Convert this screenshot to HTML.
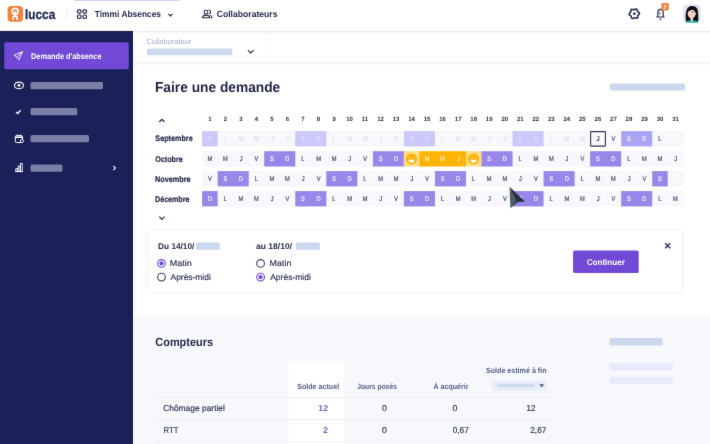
<!DOCTYPE html>
<html lang="fr">
<head>
<meta charset="utf-8">
<title>Timmi Absences - Faire une demande</title>
<style>
*{margin:0;padding:0;box-sizing:border-box}
html,body{width:710px;height:444px;overflow:hidden;background:#fff}
svg{display:block;position:absolute;left:0;top:0}
text{font-family:"Liberation Sans",sans-serif;white-space:pre;text-rendering:geometricPrecision}
</style>
</head>
<body>
<svg width="710" height="444" viewBox="0 0 710 444">
<defs><filter id="soft" x="0" y="0" width="710" height="444" filterUnits="userSpaceOnUse" color-interpolation-filters="sRGB"><feConvolveMatrix order="3" kernelMatrix="0.00524 0.06192 0.00524 0.06192 0.73137 0.06192 0.00524 0.06192 0.00524" divisor="1" edgeMode="duplicate" preserveAlpha="false"/></filter></defs>
<g filter="url(#soft)">
<g id="shapes">
<rect x="0.00" y="0.00" width="710.00" height="444.00" fill="#ffffff"/>
<rect x="133.00" y="317.10" width="577.00" height="126.90" fill="#f7f8fc"/>
<rect x="133" y="62" width="577" height="1.1" fill="#f3f4f8"/>
<rect x="133" y="63.1" width="577" height="1.4" fill="#fafafc"/>
<rect x="266.40" y="31.00" width="0.90" height="31.00" fill="#f4f5f9"/>
<rect x="147.00" y="48.60" width="85.40" height="6.70" fill="#cdd9ee" rx="1.5"/>
<path d="M247.9 50.2 L250.75 53 L253.6 50.2" fill="none" stroke="#232a4c" stroke-width="1.15"/>
<rect x="0.00" y="30.80" width="133.00" height="413.20" fill="#1a2058"/>
<rect x="4.20" y="42.30" width="124.60" height="26.90" fill="#7149d6" rx="1.6"/>
<path d="M14.4 55 L22.5 51.7 L18.9 59.8 L16.8 57.3 Z M16.8 57.3 L22.5 51.7" fill="none" stroke="#fff" stroke-width="0.9" stroke-linejoin="round" stroke-linecap="round"/>
<ellipse cx="19" cy="85.4" rx="4.5" ry="3.3" fill="none" stroke="#fff" stroke-width="1.15"/><circle cx="19" cy="85.4" r="1.45" fill="#fff"/>
<rect x="30.50" y="82.00" width="72.50" height="7.20" fill="#7b7fa7" rx="1.5"/>
<path d="M16 112 L17.7 113.5 L20.6 110.3" fill="none" stroke="#fff" stroke-width="1.3"/>
<rect x="30.50" y="108.00" width="46.80" height="7.20" fill="#7b7fa7" rx="1.5"/>
<g fill="none" stroke="#fff" stroke-width="1"><rect x="15.3" y="135.6" width="7.2" height="7" rx="1.2"/><path d="M15.3 137.2 H22.5" stroke-width="1.6"/><path d="M17.2 134.6 V136 M20.6 134.6 V136"/><circle cx="21.9" cy="140.9" r="1.6" fill="#1a2058" stroke-width="0.9"/></g>
<rect x="30.50" y="135.00" width="58.50" height="7.20" fill="#7b7fa7" rx="1.5"/>
<g fill="none" stroke="#fff" stroke-width="0.85"><path d="M15.1 171.6 H23"/><rect x="15.9" y="168.6" width="1.7" height="3"/><rect x="18.2" y="166" width="1.7" height="5.6"/><rect x="20.5" y="163.5" width="1.7" height="8.1"/></g>
<rect x="30.50" y="164.60" width="31.90" height="7.10" fill="#7b7fa7" rx="1.5"/>
<path d="M113.3 165.9 L115.5 168 L113.3 170.1" fill="none" stroke="#fff" stroke-width="1.05"/>
<rect x="0" y="30.7" width="710" height="1.3" fill="#1a2058" opacity=".07"/>
<rect x="0" y="32" width="710" height="1.5" fill="#1a2058" opacity=".03"/>
<rect x="0.00" y="0.00" width="710.00" height="30.70" fill="#ffffff"/>
<rect x="74.40" y="0.00" width="104.60" height="0.70" fill="#c9bbec"/>
<rect x="7.60" y="5.90" width="15.40" height="15.90" fill="#f6813c" rx="3.6"/>
<g fill="none" stroke="#fff"><circle cx="15.1" cy="11.35" r="3" stroke-width="1.75"/><path d="M13.1 19.9 V18 C13.1 15.5 17.1 15.5 17.1 18 V19.9" stroke-width="1.7"/><path d="M15.1 11.2 V16.2" stroke-width="1.7"/></g>
<rect x="66.10" y="8.40" width="0.90" height="11.40" fill="#eceef4"/>
<g fill="none" stroke="#232a4c" stroke-width="1.2"><rect x="77.5" y="9.8" width="3.5" height="3.4" rx="1.1"/><rect x="83" y="9.8" width="3.5" height="3.4" rx="1.1"/><rect x="77.5" y="15" width="3.5" height="3.4" rx="1.1"/><rect x="83" y="15" width="3.5" height="3.4" rx="1.1"/></g>
<path d="M168.3 13.8 L170.4 15.9 L172.5 13.8" fill="none" stroke="#232a4c" stroke-width="1.1"/>
<g fill="none" stroke="#232a4c" stroke-width="1.05"><circle cx="206" cy="12.2" r="1.9"/><path d="M202.6 17.8 V17.2 C202.6 15.6 203.8 15.1 206 15.1 S209.4 15.6 209.4 17.2 V17.8 Z"/><path d="M208.6 10 C209.9 10 210.6 11 210.6 12 S209.9 13.9 208.9 13.9 M210 15.3 C211.2 15.6 211.8 16.2 211.8 17.2 V17.8 H210.4"/></g>
<path d="M639.38 13.75 L639.22 14.07 L638.98 14.37 L638.70 14.63 L638.42 14.85 L638.17 15.06 L637.97 15.27 L637.85 15.50 L637.78 15.76 L637.77 16.07 L637.78 16.42 L637.77 16.79 L637.72 17.17 L637.61 17.52 L637.42 17.82 L637.16 18.03 L636.84 18.15 L636.48 18.17 L636.11 18.11 L635.74 18.00 L635.40 17.87 L635.10 17.75 L634.82 17.69 L634.56 17.69 L634.30 17.77 L634.03 17.91 L633.73 18.09 L633.40 18.28 L633.05 18.42 L632.69 18.50 L632.34 18.49 L632.02 18.37 L631.76 18.15 L631.56 17.85 L631.43 17.49 L631.34 17.12 L631.29 16.76 L631.23 16.44 L631.15 16.17 L631.01 15.95 L630.82 15.76 L630.56 15.60 L630.25 15.43 L629.93 15.23 L629.63 15.00 L629.38 14.73 L629.22 14.42 L629.16 14.09 L629.22 13.75 L629.38 13.43 L629.62 13.13 L629.90 12.87 L630.18 12.65 L630.43 12.44 L630.63 12.23 L630.75 12.00 L630.82 11.74 L630.83 11.43 L630.82 11.08 L630.83 10.71 L630.88 10.33 L630.99 9.98 L631.18 9.68 L631.44 9.47 L631.76 9.35 L632.12 9.33 L632.49 9.39 L632.86 9.50 L633.20 9.63 L633.50 9.75 L633.78 9.81 L634.04 9.81 L634.30 9.73 L634.57 9.59 L634.87 9.41 L635.20 9.22 L635.55 9.08 L635.91 9.00 L636.26 9.01 L636.58 9.13 L636.84 9.35 L637.04 9.65 L637.17 10.01 L637.26 10.38 L637.31 10.74 L637.37 11.06 L637.45 11.33 L637.59 11.55 L637.78 11.74 L638.04 11.90 L638.35 12.07 L638.67 12.27 L638.97 12.50 L639.22 12.77 L639.38 13.08 L639.44 13.41Z" fill="none" stroke="#1f2647" stroke-width="1.55" stroke-linejoin="round"/><circle cx="634.3" cy="13.75" r="1.35" fill="#1f2647"/>
<path d="M657.9 16.9 V12.8 C657.9 10.4 659.1 9.4 660.5 9.4 S663.2 10.4 663.2 12.8 V16.9 M656.3 17 H664.6 M659.6 19.1 H661.4" fill="none" stroke="#232a4c" stroke-width="1.2"/><path d="M659.8 12.2 V14.6" stroke="#232a4c" stroke-width=".8"/>
<rect x="661.30" y="3.10" width="7.50" height="7.40" fill="#f6813c" rx="1.4"/>
<clipPath id="av"><rect x="683.4" y="4.4" width="17.3" height="18.3" rx="3.4"/></clipPath><rect x="683.4" y="4.4" width="17.3" height="18.3" rx="3.4" fill="#dde5f6"/><g clip-path="url(#av)"><path d="M686 21.6 C685.2 15 685.6 8.2 689.6 6.4 C692.6 5.4 696.2 6 697.4 9 C698.4 12.4 698.4 17 698.2 21.6 Z" fill="#0d0d12"/><path d="M687.6 13 C687.8 10.6 689.6 9.6 692.4 9.5 C694.6 9.6 695.4 11.4 695.6 13 L696.4 13.6 L695.4 15 C694.8 17.2 693.2 18.4 691.6 18.6 C689.4 18.4 687.6 16 687.6 13Z" fill="#f3d2c8"/><path d="M690.6 18 H693 V21 H690.6Z" fill="#f3d2c8"/><path d="M687.4 12.4 C688.6 10.6 691 9.8 693.4 9.4 L695.6 12.8 L696.4 9 L691 6.6 L687 9.4Z" fill="#0d0d12"/><circle cx="692.6" cy="12.1" r="1" fill="#8e8a90"/><circle cx="690.6" cy="15.8" r=".8" fill="#f0a8a8"/><path d="M685.6 23 C686.2 20.6 688.6 20.2 691.8 20.6 C695 20.2 697.6 20.6 698.6 23Z" fill="#28b4b4"/><path d="M690.4 20.2 L691.8 21.8 L693.2 20.2Z" fill="#f3d2c8"/></g>
<rect x="610.00" y="83.50" width="75.00" height="7.10" fill="#ccd8ee" rx="1.5"/>
<path d="M159.3 122 L161.9 119.3 L164.5 122" fill="none" stroke="#232a4c" stroke-width="1.15"/>
<path d="M159.3 216.7 L161.9 219.4 L164.5 216.7" fill="none" stroke="#232a4c" stroke-width="1.15"/>
<rect x="202.15" y="131.10" width="481.12" height="15.30" fill="#f7f7fc"/>
<rect x="202.15" y="131.10" width="15.52" height="15.30" fill="#cbc8fb"/>
<rect x="295.27" y="131.10" width="31.04" height="15.30" fill="#cbc8fb"/>
<rect x="403.91" y="131.10" width="31.04" height="15.30" fill="#cbc8fb"/>
<rect x="512.55" y="131.10" width="31.04" height="15.30" fill="#cbc8fb"/>
<rect x="621.19" y="131.10" width="31.04" height="15.30" fill="#a9a5f6"/>
<rect x="590.65" y="131.60" width="14.72" height="14.50" rx="0.5" fill="#fbfbfe" stroke="#30354f" stroke-width="1.1"/>
<rect x="202.15" y="151.20" width="481.12" height="15.30" fill="#f7f7fc"/>
<rect x="264.23" y="151.20" width="31.04" height="15.30" fill="#9887e9"/>
<rect x="372.87" y="151.20" width="31.04" height="15.30" fill="#9887e9"/>
<rect x="403.91" y="151.20" width="15.52" height="15.30" fill="#ffdc86"/>
<rect x="419.43" y="151.20" width="46.56" height="15.30" fill="#ffb302"/>
<rect x="465.99" y="151.20" width="15.52" height="15.30" fill="#ffdc86"/>
<rect x="481.51" y="151.20" width="31.04" height="15.30" fill="#9887e9"/>
<rect x="590.15" y="151.20" width="31.04" height="15.30" fill="#9887e9"/>
<circle cx="411.47" cy="158.95" r="5.5" fill="#ffb302"/><path d="M408.37 159.65 H414.57 C414.37 163.65 408.57 163.65 408.37 159.65Z" fill="#fff"/><path d="M408.57 157.55 h1.9 M412.47 157.55 h1.9" stroke="#ffe9a8" stroke-width=".8"/>
<circle cx="473.55" cy="158.95" r="5.5" fill="#ffb302"/><path d="M470.45 159.65 H476.65 C476.45 163.65 470.65 163.65 470.45 159.65Z" fill="#fff"/><path d="M470.65 157.55 h1.9 M474.55 157.55 h1.9" stroke="#ffe9a8" stroke-width=".8"/>
<rect x="202.15" y="171.10" width="481.12" height="15.30" fill="#f7f7fc"/>
<rect x="217.67" y="171.10" width="31.04" height="15.30" fill="#9887e9"/>
<rect x="326.31" y="171.10" width="31.04" height="15.30" fill="#9887e9"/>
<rect x="434.95" y="171.10" width="31.04" height="15.30" fill="#9887e9"/>
<rect x="543.59" y="171.10" width="31.04" height="15.30" fill="#9887e9"/>
<rect x="652.23" y="171.10" width="15.52" height="15.30" fill="#9887e9"/>
<rect x="202.15" y="191.10" width="481.12" height="15.30" fill="#f7f7fc"/>
<rect x="202.15" y="191.10" width="15.52" height="15.30" fill="#9887e9"/>
<rect x="295.27" y="191.10" width="31.04" height="15.30" fill="#9887e9"/>
<rect x="403.91" y="191.10" width="31.04" height="15.30" fill="#9887e9"/>
<rect x="512.55" y="191.10" width="31.04" height="15.30" fill="#9887e9"/>
<rect x="621.19" y="191.10" width="31.04" height="15.30" fill="#9887e9"/>
<rect x="147.6" y="229.4" width="535.8" height="63.4" rx="3" fill="#fff" stroke="#f0f1f6" stroke-width="0.9"/>
<rect x="196.00" y="242.50" width="23.80" height="7.20" fill="#ccd8ee" rx="1"/>
<rect x="296.00" y="242.50" width="23.80" height="7.20" fill="#ccd8ee" rx="1"/>
<circle cx="161.5" cy="263.4" r="3.85" fill="#fff" stroke="#7149d6" stroke-width="1.15"/><circle cx="161.5" cy="263.4" r="2.15" fill="#7149d6"/>
<circle cx="161.5" cy="277.1" r="3.85" fill="#fff" stroke="#3d4468" stroke-width="1.15"/>
<circle cx="260.6" cy="263.4" r="3.85" fill="#fff" stroke="#3d4468" stroke-width="1.15"/>
<circle cx="260.6" cy="277.1" r="3.85" fill="#fff" stroke="#7149d6" stroke-width="1.15"/><circle cx="260.6" cy="277.1" r="2.15" fill="#7149d6"/>
<rect x="573.10" y="250.60" width="65.60" height="22.30" fill="#7149d6" rx="1.6"/>
<path d="M665.1 243.2 L670.1 248.2 M670.1 243.2 L665.1 248.2" stroke="#232a4c" stroke-width="1.25" fill="none"/>
<rect x="609.60" y="338.00" width="53.00" height="7.60" fill="#ccd8ee" rx="1.5"/>
<rect x="609.60" y="363.10" width="63.30" height="7.20" fill="#e8eafc" rx="1.5"/>
<rect x="609.60" y="376.70" width="63.30" height="7.20" fill="#e8eafc" rx="1.5"/>
<rect x="288.40" y="361.10" width="55.40" height="82.90" fill="#ffffff"/>
<rect x="155.30" y="397.05" width="396.00" height="0.90" fill="#ebedf4"/>
<rect x="155.30" y="419.15" width="396.00" height="0.90" fill="#ebedf4"/>
<rect x="155.30" y="441.25" width="396.00" height="0.90" fill="#ebedf4"/>
<rect x="492.00" y="380.60" width="54.20" height="10.20" fill="#e9edf8" rx="1"/>
<rect x="496.80" y="383.90" width="37.90" height="3.60" fill="#d2dbef" rx="1"/>
<path d="M539.2 384.3 H544.2 L541.7 387.3Z" fill="#4b5782"/>
</g>
<g id="labels">
<text x="146.43" y="43.70" font-size="7.6" fill="#a0abc9" textLength="44.87" lengthAdjust="spacingAndGlyphs">Collaborateur</text>
<text x="31.06" y="59.35" font-size="8.2" fill="#ffffff" font-weight="bold" textLength="70.43" lengthAdjust="spacingAndGlyphs">Demande d&#x27;absence</text>
<text x="25.09" y="18.70" font-size="13.6" fill="#273056" font-weight="bold" textLength="30.14" lengthAdjust="spacingAndGlyphs" stroke="#273056" stroke-width="0.35">lucca</text>
<text x="94.82" y="17.20" font-size="8.9" fill="#1f2647" font-weight="bold" textLength="66.19" lengthAdjust="spacingAndGlyphs">Timmi Absences</text>
<text x="216.76" y="17.20" font-size="8.9" fill="#1f2647" font-weight="bold" textLength="60.76" lengthAdjust="spacingAndGlyphs">Collaborateurs</text>
<text x="663.62" y="8.90" font-size="5.6" fill="#fff" font-weight="bold" textLength="2.90" lengthAdjust="spacingAndGlyphs">2</text>
<text x="154.98" y="92.20" font-size="14.4" fill="#1e2445" font-weight="bold" textLength="125.28" lengthAdjust="spacingAndGlyphs">Faire une demande</text>
<text x="208.14" y="121.20" font-size="6.2" fill="#1f2647" font-weight="bold" textLength="3.34" lengthAdjust="spacingAndGlyphs">1</text>
<text x="223.78" y="121.20" font-size="6.2" fill="#1f2647" font-weight="bold" textLength="3.34" lengthAdjust="spacingAndGlyphs">2</text>
<text x="239.33" y="121.20" font-size="6.2" fill="#1f2647" font-weight="bold" textLength="3.34" lengthAdjust="spacingAndGlyphs">3</text>
<text x="254.76" y="121.20" font-size="6.2" fill="#1f2647" font-weight="bold" textLength="3.34" lengthAdjust="spacingAndGlyphs">4</text>
<text x="270.31" y="121.20" font-size="6.2" fill="#1f2647" font-weight="bold" textLength="3.34" lengthAdjust="spacingAndGlyphs">5</text>
<text x="285.86" y="121.20" font-size="6.2" fill="#1f2647" font-weight="bold" textLength="3.34" lengthAdjust="spacingAndGlyphs">6</text>
<text x="301.35" y="121.20" font-size="6.2" fill="#1f2647" font-weight="bold" textLength="3.34" lengthAdjust="spacingAndGlyphs">7</text>
<text x="316.87" y="121.20" font-size="6.2" fill="#1f2647" font-weight="bold" textLength="3.34" lengthAdjust="spacingAndGlyphs">8</text>
<text x="332.42" y="121.20" font-size="6.2" fill="#1f2647" font-weight="bold" textLength="3.34" lengthAdjust="spacingAndGlyphs">9</text>
<text x="346.17" y="121.20" font-size="6.2" fill="#1f2647" font-weight="bold" textLength="6.69" lengthAdjust="spacingAndGlyphs">10</text>
<text x="361.83" y="121.20" font-size="6.2" fill="#1f2647" font-weight="bold" textLength="6.36" lengthAdjust="spacingAndGlyphs">11</text>
<text x="377.21" y="121.20" font-size="6.2" fill="#1f2647" font-weight="bold" textLength="6.69" lengthAdjust="spacingAndGlyphs">12</text>
<text x="392.73" y="121.20" font-size="6.2" fill="#1f2647" font-weight="bold" textLength="6.69" lengthAdjust="spacingAndGlyphs">13</text>
<text x="408.13" y="121.20" font-size="6.2" fill="#1f2647" font-weight="bold" textLength="6.69" lengthAdjust="spacingAndGlyphs">14</text>
<text x="423.74" y="121.20" font-size="6.2" fill="#1f2647" font-weight="bold" textLength="6.69" lengthAdjust="spacingAndGlyphs">15</text>
<text x="439.29" y="121.20" font-size="6.2" fill="#1f2647" font-weight="bold" textLength="6.69" lengthAdjust="spacingAndGlyphs">16</text>
<text x="454.81" y="121.20" font-size="6.2" fill="#1f2647" font-weight="bold" textLength="6.69" lengthAdjust="spacingAndGlyphs">17</text>
<text x="470.30" y="121.20" font-size="6.2" fill="#1f2647" font-weight="bold" textLength="6.69" lengthAdjust="spacingAndGlyphs">18</text>
<text x="485.85" y="121.20" font-size="6.2" fill="#1f2647" font-weight="bold" textLength="6.69" lengthAdjust="spacingAndGlyphs">19</text>
<text x="501.46" y="121.20" font-size="6.2" fill="#1f2647" font-weight="bold" textLength="6.69" lengthAdjust="spacingAndGlyphs">20</text>
<text x="516.95" y="121.20" font-size="6.2" fill="#1f2647" font-weight="bold" textLength="6.69" lengthAdjust="spacingAndGlyphs">21</text>
<text x="532.50" y="121.20" font-size="6.2" fill="#1f2647" font-weight="bold" textLength="6.69" lengthAdjust="spacingAndGlyphs">22</text>
<text x="548.02" y="121.20" font-size="6.2" fill="#1f2647" font-weight="bold" textLength="6.69" lengthAdjust="spacingAndGlyphs">23</text>
<text x="563.42" y="121.20" font-size="6.2" fill="#1f2647" font-weight="bold" textLength="6.69" lengthAdjust="spacingAndGlyphs">24</text>
<text x="579.03" y="121.20" font-size="6.2" fill="#1f2647" font-weight="bold" textLength="6.69" lengthAdjust="spacingAndGlyphs">25</text>
<text x="594.58" y="121.20" font-size="6.2" fill="#1f2647" font-weight="bold" textLength="6.69" lengthAdjust="spacingAndGlyphs">26</text>
<text x="610.10" y="121.20" font-size="6.2" fill="#1f2647" font-weight="bold" textLength="6.69" lengthAdjust="spacingAndGlyphs">27</text>
<text x="625.59" y="121.20" font-size="6.2" fill="#1f2647" font-weight="bold" textLength="6.69" lengthAdjust="spacingAndGlyphs">28</text>
<text x="641.14" y="121.20" font-size="6.2" fill="#1f2647" font-weight="bold" textLength="6.69" lengthAdjust="spacingAndGlyphs">29</text>
<text x="656.69" y="121.20" font-size="6.2" fill="#1f2647" font-weight="bold" textLength="6.69" lengthAdjust="spacingAndGlyphs">30</text>
<text x="672.18" y="121.20" font-size="6.2" fill="#1f2647" font-weight="bold" textLength="6.69" lengthAdjust="spacingAndGlyphs">31</text>
<text x="155.36" y="140.80" font-size="8.2" fill="#1f2647" font-weight="bold" textLength="37.33" lengthAdjust="spacingAndGlyphs" stroke="#1f2647" stroke-width="0.2">Septembre</text>
<text x="207.74" y="141.15" font-size="6.8" fill="#e0defc" textLength="4.13" lengthAdjust="spacingAndGlyphs" stroke="#e0defc" stroke-width="0.16">D</text>
<text x="223.69" y="141.15" font-size="6.8" fill="#dfe1ec" textLength="3.18" lengthAdjust="spacingAndGlyphs" stroke="#dfe1ec" stroke-width="0.16">L</text>
<text x="238.55" y="141.15" font-size="6.8" fill="#dfe1ec" textLength="4.76" lengthAdjust="spacingAndGlyphs" stroke="#dfe1ec" stroke-width="0.16">M</text>
<text x="254.07" y="141.15" font-size="6.8" fill="#dfe1ec" textLength="4.76" lengthAdjust="spacingAndGlyphs" stroke="#dfe1ec" stroke-width="0.16">M</text>
<text x="270.73" y="141.15" font-size="6.8" fill="#dfe1ec" textLength="2.86" lengthAdjust="spacingAndGlyphs" stroke="#dfe1ec" stroke-width="0.16">J</text>
<text x="285.60" y="141.15" font-size="6.8" fill="#dfe1ec" textLength="3.81" lengthAdjust="spacingAndGlyphs" stroke="#dfe1ec" stroke-width="0.16">V</text>
<text x="301.12" y="141.15" font-size="6.8" fill="#e0defc" textLength="3.81" lengthAdjust="spacingAndGlyphs" stroke="#e0defc" stroke-width="0.16">S</text>
<text x="316.38" y="141.15" font-size="6.8" fill="#e0defc" textLength="4.13" lengthAdjust="spacingAndGlyphs" stroke="#e0defc" stroke-width="0.16">D</text>
<text x="332.33" y="141.15" font-size="6.8" fill="#dfe1ec" textLength="3.18" lengthAdjust="spacingAndGlyphs" stroke="#dfe1ec" stroke-width="0.16">L</text>
<text x="347.19" y="141.15" font-size="6.8" fill="#dfe1ec" textLength="4.76" lengthAdjust="spacingAndGlyphs" stroke="#dfe1ec" stroke-width="0.16">M</text>
<text x="362.71" y="141.15" font-size="6.8" fill="#dfe1ec" textLength="4.76" lengthAdjust="spacingAndGlyphs" stroke="#dfe1ec" stroke-width="0.16">M</text>
<text x="379.37" y="141.15" font-size="6.8" fill="#dfe1ec" textLength="2.86" lengthAdjust="spacingAndGlyphs" stroke="#dfe1ec" stroke-width="0.16">J</text>
<text x="394.24" y="141.15" font-size="6.8" fill="#dfe1ec" textLength="3.81" lengthAdjust="spacingAndGlyphs" stroke="#dfe1ec" stroke-width="0.16">V</text>
<text x="409.76" y="141.15" font-size="6.8" fill="#e0defc" textLength="3.81" lengthAdjust="spacingAndGlyphs" stroke="#e0defc" stroke-width="0.16">S</text>
<text x="425.02" y="141.15" font-size="6.8" fill="#e0defc" textLength="4.13" lengthAdjust="spacingAndGlyphs" stroke="#e0defc" stroke-width="0.16">D</text>
<text x="440.97" y="141.15" font-size="6.8" fill="#dfe1ec" textLength="3.18" lengthAdjust="spacingAndGlyphs" stroke="#dfe1ec" stroke-width="0.16">L</text>
<text x="455.83" y="141.15" font-size="6.8" fill="#dfe1ec" textLength="4.76" lengthAdjust="spacingAndGlyphs" stroke="#dfe1ec" stroke-width="0.16">M</text>
<text x="471.35" y="141.15" font-size="6.8" fill="#dfe1ec" textLength="4.76" lengthAdjust="spacingAndGlyphs" stroke="#dfe1ec" stroke-width="0.16">M</text>
<text x="488.01" y="141.15" font-size="6.8" fill="#dfe1ec" textLength="2.86" lengthAdjust="spacingAndGlyphs" stroke="#dfe1ec" stroke-width="0.16">J</text>
<text x="502.88" y="141.15" font-size="6.8" fill="#dfe1ec" textLength="3.81" lengthAdjust="spacingAndGlyphs" stroke="#dfe1ec" stroke-width="0.16">V</text>
<text x="518.40" y="141.15" font-size="6.8" fill="#e0defc" textLength="3.81" lengthAdjust="spacingAndGlyphs" stroke="#e0defc" stroke-width="0.16">S</text>
<text x="533.66" y="141.15" font-size="6.8" fill="#e0defc" textLength="4.13" lengthAdjust="spacingAndGlyphs" stroke="#e0defc" stroke-width="0.16">D</text>
<text x="549.61" y="141.15" font-size="6.8" fill="#dfe1ec" textLength="3.18" lengthAdjust="spacingAndGlyphs" stroke="#dfe1ec" stroke-width="0.16">L</text>
<text x="564.47" y="141.15" font-size="6.8" fill="#dfe1ec" textLength="4.76" lengthAdjust="spacingAndGlyphs" stroke="#dfe1ec" stroke-width="0.16">M</text>
<text x="579.99" y="141.15" font-size="6.8" fill="#dfe1ec" textLength="4.76" lengthAdjust="spacingAndGlyphs" stroke="#dfe1ec" stroke-width="0.16">M</text>
<text x="596.46" y="141.15" font-size="6.9" fill="#1e2445" font-weight="bold" textLength="3.22" lengthAdjust="spacingAndGlyphs">J</text>
<text x="611.52" y="141.15" font-size="6.8" fill="#3f4564" textLength="3.81" lengthAdjust="spacingAndGlyphs" stroke="#3f4564" stroke-width="0.16">V</text>
<text x="627.04" y="141.15" font-size="6.8" fill="#f6f3fe" textLength="3.81" lengthAdjust="spacingAndGlyphs" stroke="#f6f3fe" stroke-width="0.16">S</text>
<text x="642.30" y="141.15" font-size="6.8" fill="#f6f3fe" textLength="4.13" lengthAdjust="spacingAndGlyphs" stroke="#f6f3fe" stroke-width="0.16">D</text>
<text x="658.25" y="141.15" font-size="6.8" fill="#3f4564" textLength="3.18" lengthAdjust="spacingAndGlyphs" stroke="#3f4564" stroke-width="0.16">L</text>
<text x="155.21" y="161.50" font-size="8.2" fill="#1f2647" font-weight="bold" textLength="27.47" lengthAdjust="spacingAndGlyphs" stroke="#1f2647" stroke-width="0.2">Octobre</text>
<text x="207.51" y="161.25" font-size="6.8" fill="#3f4564" textLength="4.76" lengthAdjust="spacingAndGlyphs" stroke="#3f4564" stroke-width="0.16">M</text>
<text x="223.03" y="161.25" font-size="6.8" fill="#3f4564" textLength="4.76" lengthAdjust="spacingAndGlyphs" stroke="#3f4564" stroke-width="0.16">M</text>
<text x="239.69" y="161.25" font-size="6.8" fill="#3f4564" textLength="2.86" lengthAdjust="spacingAndGlyphs" stroke="#3f4564" stroke-width="0.16">J</text>
<text x="254.56" y="161.25" font-size="6.8" fill="#3f4564" textLength="3.81" lengthAdjust="spacingAndGlyphs" stroke="#3f4564" stroke-width="0.16">V</text>
<text x="270.08" y="161.25" font-size="6.8" fill="#f6f3fe" textLength="3.81" lengthAdjust="spacingAndGlyphs" stroke="#f6f3fe" stroke-width="0.16">S</text>
<text x="285.34" y="161.25" font-size="6.8" fill="#f6f3fe" textLength="4.13" lengthAdjust="spacingAndGlyphs" stroke="#f6f3fe" stroke-width="0.16">D</text>
<text x="301.29" y="161.25" font-size="6.8" fill="#3f4564" textLength="3.18" lengthAdjust="spacingAndGlyphs" stroke="#3f4564" stroke-width="0.16">L</text>
<text x="316.15" y="161.25" font-size="6.8" fill="#3f4564" textLength="4.76" lengthAdjust="spacingAndGlyphs" stroke="#3f4564" stroke-width="0.16">M</text>
<text x="331.67" y="161.25" font-size="6.8" fill="#3f4564" textLength="4.76" lengthAdjust="spacingAndGlyphs" stroke="#3f4564" stroke-width="0.16">M</text>
<text x="348.33" y="161.25" font-size="6.8" fill="#3f4564" textLength="2.86" lengthAdjust="spacingAndGlyphs" stroke="#3f4564" stroke-width="0.16">J</text>
<text x="363.20" y="161.25" font-size="6.8" fill="#3f4564" textLength="3.81" lengthAdjust="spacingAndGlyphs" stroke="#3f4564" stroke-width="0.16">V</text>
<text x="378.72" y="161.25" font-size="6.8" fill="#f6f3fe" textLength="3.81" lengthAdjust="spacingAndGlyphs" stroke="#f6f3fe" stroke-width="0.16">S</text>
<text x="393.98" y="161.25" font-size="6.8" fill="#f6f3fe" textLength="4.13" lengthAdjust="spacingAndGlyphs" stroke="#f6f3fe" stroke-width="0.16">D</text>
<text x="424.79" y="161.25" font-size="6.8" fill="#fff0c4" textLength="4.76" lengthAdjust="spacingAndGlyphs" stroke="#fff0c4" stroke-width="0.16">M</text>
<text x="440.31" y="161.25" font-size="6.8" fill="#fff0c4" textLength="4.76" lengthAdjust="spacingAndGlyphs" stroke="#fff0c4" stroke-width="0.16">M</text>
<text x="456.97" y="161.25" font-size="6.8" fill="#fff0c4" textLength="2.86" lengthAdjust="spacingAndGlyphs" stroke="#fff0c4" stroke-width="0.16">J</text>
<text x="487.36" y="161.25" font-size="6.8" fill="#f6f3fe" textLength="3.81" lengthAdjust="spacingAndGlyphs" stroke="#f6f3fe" stroke-width="0.16">S</text>
<text x="502.62" y="161.25" font-size="6.8" fill="#f6f3fe" textLength="4.13" lengthAdjust="spacingAndGlyphs" stroke="#f6f3fe" stroke-width="0.16">D</text>
<text x="518.57" y="161.25" font-size="6.8" fill="#3f4564" textLength="3.18" lengthAdjust="spacingAndGlyphs" stroke="#3f4564" stroke-width="0.16">L</text>
<text x="533.43" y="161.25" font-size="6.8" fill="#3f4564" textLength="4.76" lengthAdjust="spacingAndGlyphs" stroke="#3f4564" stroke-width="0.16">M</text>
<text x="548.95" y="161.25" font-size="6.8" fill="#3f4564" textLength="4.76" lengthAdjust="spacingAndGlyphs" stroke="#3f4564" stroke-width="0.16">M</text>
<text x="565.61" y="161.25" font-size="6.8" fill="#3f4564" textLength="2.86" lengthAdjust="spacingAndGlyphs" stroke="#3f4564" stroke-width="0.16">J</text>
<text x="580.48" y="161.25" font-size="6.8" fill="#3f4564" textLength="3.81" lengthAdjust="spacingAndGlyphs" stroke="#3f4564" stroke-width="0.16">V</text>
<text x="596.00" y="161.25" font-size="6.8" fill="#f6f3fe" textLength="3.81" lengthAdjust="spacingAndGlyphs" stroke="#f6f3fe" stroke-width="0.16">S</text>
<text x="611.26" y="161.25" font-size="6.8" fill="#f6f3fe" textLength="4.13" lengthAdjust="spacingAndGlyphs" stroke="#f6f3fe" stroke-width="0.16">D</text>
<text x="627.21" y="161.25" font-size="6.8" fill="#3f4564" textLength="3.18" lengthAdjust="spacingAndGlyphs" stroke="#3f4564" stroke-width="0.16">L</text>
<text x="642.07" y="161.25" font-size="6.8" fill="#3f4564" textLength="4.76" lengthAdjust="spacingAndGlyphs" stroke="#3f4564" stroke-width="0.16">M</text>
<text x="657.59" y="161.25" font-size="6.8" fill="#3f4564" textLength="4.76" lengthAdjust="spacingAndGlyphs" stroke="#3f4564" stroke-width="0.16">M</text>
<text x="674.25" y="161.25" font-size="6.8" fill="#3f4564" textLength="2.86" lengthAdjust="spacingAndGlyphs" stroke="#3f4564" stroke-width="0.16">J</text>
<text x="155.06" y="181.60" font-size="8.2" fill="#1f2647" font-weight="bold" textLength="35.53" lengthAdjust="spacingAndGlyphs" stroke="#1f2647" stroke-width="0.2">Novembre</text>
<text x="208.00" y="181.15" font-size="6.8" fill="#3f4564" textLength="3.81" lengthAdjust="spacingAndGlyphs" stroke="#3f4564" stroke-width="0.16">V</text>
<text x="223.52" y="181.15" font-size="6.8" fill="#f6f3fe" textLength="3.81" lengthAdjust="spacingAndGlyphs" stroke="#f6f3fe" stroke-width="0.16">S</text>
<text x="238.78" y="181.15" font-size="6.8" fill="#f6f3fe" textLength="4.13" lengthAdjust="spacingAndGlyphs" stroke="#f6f3fe" stroke-width="0.16">D</text>
<text x="254.73" y="181.15" font-size="6.8" fill="#3f4564" textLength="3.18" lengthAdjust="spacingAndGlyphs" stroke="#3f4564" stroke-width="0.16">L</text>
<text x="269.59" y="181.15" font-size="6.8" fill="#3f4564" textLength="4.76" lengthAdjust="spacingAndGlyphs" stroke="#3f4564" stroke-width="0.16">M</text>
<text x="285.11" y="181.15" font-size="6.8" fill="#3f4564" textLength="4.76" lengthAdjust="spacingAndGlyphs" stroke="#3f4564" stroke-width="0.16">M</text>
<text x="301.77" y="181.15" font-size="6.8" fill="#3f4564" textLength="2.86" lengthAdjust="spacingAndGlyphs" stroke="#3f4564" stroke-width="0.16">J</text>
<text x="316.64" y="181.15" font-size="6.8" fill="#3f4564" textLength="3.81" lengthAdjust="spacingAndGlyphs" stroke="#3f4564" stroke-width="0.16">V</text>
<text x="332.16" y="181.15" font-size="6.8" fill="#f6f3fe" textLength="3.81" lengthAdjust="spacingAndGlyphs" stroke="#f6f3fe" stroke-width="0.16">S</text>
<text x="347.42" y="181.15" font-size="6.8" fill="#f6f3fe" textLength="4.13" lengthAdjust="spacingAndGlyphs" stroke="#f6f3fe" stroke-width="0.16">D</text>
<text x="363.37" y="181.15" font-size="6.8" fill="#3f4564" textLength="3.18" lengthAdjust="spacingAndGlyphs" stroke="#3f4564" stroke-width="0.16">L</text>
<text x="378.23" y="181.15" font-size="6.8" fill="#3f4564" textLength="4.76" lengthAdjust="spacingAndGlyphs" stroke="#3f4564" stroke-width="0.16">M</text>
<text x="393.75" y="181.15" font-size="6.8" fill="#3f4564" textLength="4.76" lengthAdjust="spacingAndGlyphs" stroke="#3f4564" stroke-width="0.16">M</text>
<text x="410.41" y="181.15" font-size="6.8" fill="#3f4564" textLength="2.86" lengthAdjust="spacingAndGlyphs" stroke="#3f4564" stroke-width="0.16">J</text>
<text x="425.28" y="181.15" font-size="6.8" fill="#3f4564" textLength="3.81" lengthAdjust="spacingAndGlyphs" stroke="#3f4564" stroke-width="0.16">V</text>
<text x="440.80" y="181.15" font-size="6.8" fill="#f6f3fe" textLength="3.81" lengthAdjust="spacingAndGlyphs" stroke="#f6f3fe" stroke-width="0.16">S</text>
<text x="456.06" y="181.15" font-size="6.8" fill="#f6f3fe" textLength="4.13" lengthAdjust="spacingAndGlyphs" stroke="#f6f3fe" stroke-width="0.16">D</text>
<text x="472.01" y="181.15" font-size="6.8" fill="#3f4564" textLength="3.18" lengthAdjust="spacingAndGlyphs" stroke="#3f4564" stroke-width="0.16">L</text>
<text x="486.87" y="181.15" font-size="6.8" fill="#3f4564" textLength="4.76" lengthAdjust="spacingAndGlyphs" stroke="#3f4564" stroke-width="0.16">M</text>
<text x="502.39" y="181.15" font-size="6.8" fill="#3f4564" textLength="4.76" lengthAdjust="spacingAndGlyphs" stroke="#3f4564" stroke-width="0.16">M</text>
<text x="519.05" y="181.15" font-size="6.8" fill="#3f4564" textLength="2.86" lengthAdjust="spacingAndGlyphs" stroke="#3f4564" stroke-width="0.16">J</text>
<text x="533.92" y="181.15" font-size="6.8" fill="#3f4564" textLength="3.81" lengthAdjust="spacingAndGlyphs" stroke="#3f4564" stroke-width="0.16">V</text>
<text x="549.44" y="181.15" font-size="6.8" fill="#f6f3fe" textLength="3.81" lengthAdjust="spacingAndGlyphs" stroke="#f6f3fe" stroke-width="0.16">S</text>
<text x="564.70" y="181.15" font-size="6.8" fill="#f6f3fe" textLength="4.13" lengthAdjust="spacingAndGlyphs" stroke="#f6f3fe" stroke-width="0.16">D</text>
<text x="580.65" y="181.15" font-size="6.8" fill="#3f4564" textLength="3.18" lengthAdjust="spacingAndGlyphs" stroke="#3f4564" stroke-width="0.16">L</text>
<text x="595.51" y="181.15" font-size="6.8" fill="#3f4564" textLength="4.76" lengthAdjust="spacingAndGlyphs" stroke="#3f4564" stroke-width="0.16">M</text>
<text x="611.03" y="181.15" font-size="6.8" fill="#3f4564" textLength="4.76" lengthAdjust="spacingAndGlyphs" stroke="#3f4564" stroke-width="0.16">M</text>
<text x="627.69" y="181.15" font-size="6.8" fill="#3f4564" textLength="2.86" lengthAdjust="spacingAndGlyphs" stroke="#3f4564" stroke-width="0.16">J</text>
<text x="642.56" y="181.15" font-size="6.8" fill="#3f4564" textLength="3.81" lengthAdjust="spacingAndGlyphs" stroke="#3f4564" stroke-width="0.16">V</text>
<text x="658.08" y="181.15" font-size="6.8" fill="#f6f3fe" textLength="3.81" lengthAdjust="spacingAndGlyphs" stroke="#f6f3fe" stroke-width="0.16">S</text>
<text x="155.07" y="201.70" font-size="8.2" fill="#1f2647" font-weight="bold" textLength="34.31" lengthAdjust="spacingAndGlyphs" stroke="#1f2647" stroke-width="0.2">Décembre</text>
<text x="207.74" y="201.15" font-size="6.8" fill="#f6f3fe" textLength="4.13" lengthAdjust="spacingAndGlyphs" stroke="#f6f3fe" stroke-width="0.16">D</text>
<text x="223.69" y="201.15" font-size="6.8" fill="#3f4564" textLength="3.18" lengthAdjust="spacingAndGlyphs" stroke="#3f4564" stroke-width="0.16">L</text>
<text x="238.55" y="201.15" font-size="6.8" fill="#3f4564" textLength="4.76" lengthAdjust="spacingAndGlyphs" stroke="#3f4564" stroke-width="0.16">M</text>
<text x="254.07" y="201.15" font-size="6.8" fill="#3f4564" textLength="4.76" lengthAdjust="spacingAndGlyphs" stroke="#3f4564" stroke-width="0.16">M</text>
<text x="270.73" y="201.15" font-size="6.8" fill="#3f4564" textLength="2.86" lengthAdjust="spacingAndGlyphs" stroke="#3f4564" stroke-width="0.16">J</text>
<text x="285.60" y="201.15" font-size="6.8" fill="#3f4564" textLength="3.81" lengthAdjust="spacingAndGlyphs" stroke="#3f4564" stroke-width="0.16">V</text>
<text x="301.12" y="201.15" font-size="6.8" fill="#f6f3fe" textLength="3.81" lengthAdjust="spacingAndGlyphs" stroke="#f6f3fe" stroke-width="0.16">S</text>
<text x="316.38" y="201.15" font-size="6.8" fill="#f6f3fe" textLength="4.13" lengthAdjust="spacingAndGlyphs" stroke="#f6f3fe" stroke-width="0.16">D</text>
<text x="332.33" y="201.15" font-size="6.8" fill="#3f4564" textLength="3.18" lengthAdjust="spacingAndGlyphs" stroke="#3f4564" stroke-width="0.16">L</text>
<text x="347.19" y="201.15" font-size="6.8" fill="#3f4564" textLength="4.76" lengthAdjust="spacingAndGlyphs" stroke="#3f4564" stroke-width="0.16">M</text>
<text x="362.71" y="201.15" font-size="6.8" fill="#3f4564" textLength="4.76" lengthAdjust="spacingAndGlyphs" stroke="#3f4564" stroke-width="0.16">M</text>
<text x="379.37" y="201.15" font-size="6.8" fill="#3f4564" textLength="2.86" lengthAdjust="spacingAndGlyphs" stroke="#3f4564" stroke-width="0.16">J</text>
<text x="394.24" y="201.15" font-size="6.8" fill="#3f4564" textLength="3.81" lengthAdjust="spacingAndGlyphs" stroke="#3f4564" stroke-width="0.16">V</text>
<text x="409.76" y="201.15" font-size="6.8" fill="#f6f3fe" textLength="3.81" lengthAdjust="spacingAndGlyphs" stroke="#f6f3fe" stroke-width="0.16">S</text>
<text x="425.02" y="201.15" font-size="6.8" fill="#f6f3fe" textLength="4.13" lengthAdjust="spacingAndGlyphs" stroke="#f6f3fe" stroke-width="0.16">D</text>
<text x="440.97" y="201.15" font-size="6.8" fill="#3f4564" textLength="3.18" lengthAdjust="spacingAndGlyphs" stroke="#3f4564" stroke-width="0.16">L</text>
<text x="455.83" y="201.15" font-size="6.8" fill="#3f4564" textLength="4.76" lengthAdjust="spacingAndGlyphs" stroke="#3f4564" stroke-width="0.16">M</text>
<text x="471.35" y="201.15" font-size="6.8" fill="#3f4564" textLength="4.76" lengthAdjust="spacingAndGlyphs" stroke="#3f4564" stroke-width="0.16">M</text>
<text x="488.01" y="201.15" font-size="6.8" fill="#3f4564" textLength="2.86" lengthAdjust="spacingAndGlyphs" stroke="#3f4564" stroke-width="0.16">J</text>
<text x="502.88" y="201.15" font-size="6.8" fill="#3f4564" textLength="3.81" lengthAdjust="spacingAndGlyphs" stroke="#3f4564" stroke-width="0.16">V</text>
<text x="518.40" y="201.15" font-size="6.8" fill="#f6f3fe" textLength="3.81" lengthAdjust="spacingAndGlyphs" stroke="#f6f3fe" stroke-width="0.16">S</text>
<text x="533.66" y="201.15" font-size="6.8" fill="#f6f3fe" textLength="4.13" lengthAdjust="spacingAndGlyphs" stroke="#f6f3fe" stroke-width="0.16">D</text>
<text x="549.61" y="201.15" font-size="6.8" fill="#3f4564" textLength="3.18" lengthAdjust="spacingAndGlyphs" stroke="#3f4564" stroke-width="0.16">L</text>
<text x="564.47" y="201.15" font-size="6.8" fill="#3f4564" textLength="4.76" lengthAdjust="spacingAndGlyphs" stroke="#3f4564" stroke-width="0.16">M</text>
<text x="579.99" y="201.15" font-size="6.8" fill="#3f4564" textLength="4.76" lengthAdjust="spacingAndGlyphs" stroke="#3f4564" stroke-width="0.16">M</text>
<text x="596.65" y="201.15" font-size="6.8" fill="#3f4564" textLength="2.86" lengthAdjust="spacingAndGlyphs" stroke="#3f4564" stroke-width="0.16">J</text>
<text x="611.52" y="201.15" font-size="6.8" fill="#3f4564" textLength="3.81" lengthAdjust="spacingAndGlyphs" stroke="#3f4564" stroke-width="0.16">V</text>
<text x="627.04" y="201.15" font-size="6.8" fill="#f6f3fe" textLength="3.81" lengthAdjust="spacingAndGlyphs" stroke="#f6f3fe" stroke-width="0.16">S</text>
<text x="642.30" y="201.15" font-size="6.8" fill="#f6f3fe" textLength="4.13" lengthAdjust="spacingAndGlyphs" stroke="#f6f3fe" stroke-width="0.16">D</text>
<text x="658.25" y="201.15" font-size="6.8" fill="#3f4564" textLength="3.18" lengthAdjust="spacingAndGlyphs" stroke="#3f4564" stroke-width="0.16">L</text>
<text x="673.11" y="201.15" font-size="6.8" fill="#3f4564" textLength="4.76" lengthAdjust="spacingAndGlyphs" stroke="#3f4564" stroke-width="0.16">M</text>
<text x="158.10" y="248.90" font-size="8.4" fill="#1f2647" font-weight="bold" textLength="36.26" lengthAdjust="spacingAndGlyphs">Du 14/10/</text>
<text x="255.93" y="248.90" font-size="8.4" fill="#1f2647" font-weight="bold" textLength="36.14" lengthAdjust="spacingAndGlyphs">au 18/10/</text>
<text x="169.78" y="266.40" font-size="8.5" fill="#262c4c" textLength="21.92" lengthAdjust="spacingAndGlyphs" stroke="#262c4c" stroke-width="0.14">Matin</text>
<text x="170.50" y="280.10" font-size="8.5" fill="#262c4c" textLength="40.32" lengthAdjust="spacingAndGlyphs" stroke="#262c4c" stroke-width="0.14">Après-midi</text>
<text x="269.48" y="266.40" font-size="8.5" fill="#262c4c" textLength="21.92" lengthAdjust="spacingAndGlyphs" stroke="#262c4c" stroke-width="0.14">Matin</text>
<text x="270.20" y="280.10" font-size="8.5" fill="#262c4c" textLength="40.63" lengthAdjust="spacingAndGlyphs" stroke="#262c4c" stroke-width="0.14">Après-midi</text>
<text x="586.68" y="265.30" font-size="8.4" fill="#fff" font-weight="bold" textLength="38.20" lengthAdjust="spacingAndGlyphs">Continuer</text>
<text x="155.36" y="346.20" font-size="11.8" fill="#1e2445" font-weight="bold" textLength="57.63" lengthAdjust="spacingAndGlyphs">Compteurs</text>
<text x="297.16" y="389.00" font-size="7.7" fill="#55638b" font-weight="bold" textLength="42.03" lengthAdjust="spacingAndGlyphs">Solde actuel</text>
<text x="357.13" y="389.00" font-size="7.7" fill="#55638b" font-weight="bold" textLength="40.01" lengthAdjust="spacingAndGlyphs">Jours posés</text>
<text x="433.46" y="389.00" font-size="7.7" fill="#55638b" font-weight="bold" textLength="35.01" lengthAdjust="spacingAndGlyphs">À acquérir</text>
<text x="485.96" y="373.30" font-size="7.7" fill="#55638b" font-weight="bold" textLength="60.58" lengthAdjust="spacingAndGlyphs">Solde estimé à fin</text>
<text x="163.18" y="411.40" font-size="8.5" fill="#262c4c" textLength="61.74" lengthAdjust="spacingAndGlyphs" stroke="#262c4c" stroke-width="0.14">Chômage partiel</text>
<text x="318.27" y="411.40" font-size="8.5" fill="#7262d0" font-weight="bold" textLength="9.85" lengthAdjust="spacingAndGlyphs">12</text>
<text x="382.04" y="411.40" font-size="8.5" fill="#262c4c" textLength="4.88" lengthAdjust="spacingAndGlyphs" stroke="#262c4c" stroke-width="0.14">0</text>
<text x="452.64" y="411.40" font-size="8.5" fill="#262c4c" textLength="4.88" lengthAdjust="spacingAndGlyphs" stroke="#262c4c" stroke-width="0.14">0</text>
<text x="526.53" y="411.40" font-size="8.5" fill="#262c4c" textLength="9.04" lengthAdjust="spacingAndGlyphs" stroke="#262c4c" stroke-width="0.14">12</text>
<text x="163.59" y="433.20" font-size="8.5" fill="#262c4c" textLength="14.77" lengthAdjust="spacingAndGlyphs" stroke="#262c4c" stroke-width="0.14">RTT</text>
<text x="322.94" y="433.20" font-size="8.5" fill="#7262d0" font-weight="bold" textLength="4.88" lengthAdjust="spacingAndGlyphs">2</text>
<text x="382.04" y="433.20" font-size="8.5" fill="#262c4c" textLength="4.88" lengthAdjust="spacingAndGlyphs" stroke="#262c4c" stroke-width="0.14">0</text>
<text x="452.65" y="433.20" font-size="8.5" fill="#262c4c" textLength="16.13" lengthAdjust="spacingAndGlyphs" stroke="#262c4c" stroke-width="0.14">0,67</text>
<text x="530.18" y="433.20" font-size="8.5" fill="#262c4c" textLength="16.31" lengthAdjust="spacingAndGlyphs" stroke="#262c4c" stroke-width="0.14">2,67</text>
</g>
<g id="cursor">
<path d="M509.5 186.7 L525 201.5 L516.2 201.4 Z" fill="#25323a"/><path d="M509.5 186.7 L516.4 201.2 L510.4 208.2 Z" fill="#4a6067"/><path d="M525 201.5 L516.2 201 L510.4 208.2 L517.6 202.3 Z" fill="#2b3a41"/>
</g>
</g>
</svg>
</body>
</html>
